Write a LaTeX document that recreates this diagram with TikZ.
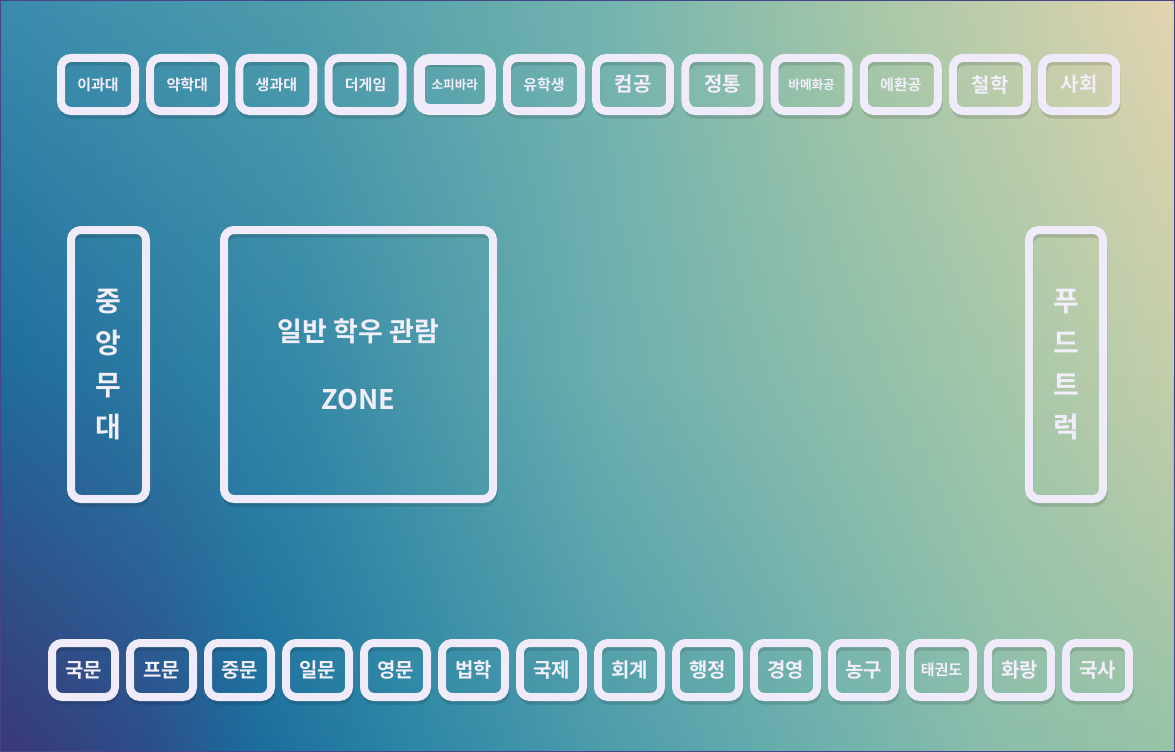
\documentclass[tikz,border=0pt]{standalone}
\usepackage{fontspec}
\newfontfamily\coreano{Noto Sans CJK KR}[BoldFont={Noto Sans CJK KR Bold}]
\usepackage{xcolor}
\usetikzlibrary{fadings}
\definecolor{borde}{HTML}{EFEBFB}
\definecolor{letra}{HTML}{F2EEFB}
\definecolor{marco}{HTML}{46458A}
% colores del fondo: arriba, medio, abajo
\definecolor{aA}{HTML}{3A8CAE}\definecolor{aB}{HTML}{4F9DAC}\definecolor{aC}{HTML}{73B4AE}\definecolor{aD}{HTML}{A8C8A8}\definecolor{aE}{HTML}{E3D5B0}
\definecolor{mA}{HTML}{206B9C}\definecolor{mB}{HTML}{3489A8}\definecolor{mC}{HTML}{6DB0AE}\definecolor{mD}{HTML}{A5C8A9}\definecolor{mE}{HTML}{C4CEAA}
\definecolor{bA}{HTML}{3B3878}\definecolor{bB}{HTML}{2C4E8B}\definecolor{bC}{HTML}{1B6C9C}\definecolor{bD}{HTML}{2A85A5}\definecolor{bE}{HTML}{4C9CAB}\definecolor{bF}{HTML}{6AAFAD}\definecolor{bG}{HTML}{8BBEAB}\definecolor{bH}{HTML}{98C3A7}
\pgfdeclarehorizontalshading{fondoarriba}{100bp}{color(0bp)=(aA); color(25bp)=(aA); color(37.8bp)=(aB); color(50.5bp)=(aC); color(62bp)=(aD); color(75bp)=(aE); color(100bp)=(aE)}
\pgfdeclarehorizontalshading{fondomedio}{100bp}{color(0bp)=(mA); color(25bp)=(mA); color(37.8bp)=(mB); color(51bp)=(mC); color(67.6bp)=(mD); color(75bp)=(mE); color(100bp)=(mE)}
\pgfdeclarehorizontalshading{fondoabajo}{100bp}{color(0bp)=(bA); color(25bp)=(bA); color(31.4bp)=(bB); color(35.6bp)=(bC); color(42bp)=(bD); color(50.5bp)=(bE); color(59bp)=(bF); color(67.6bp)=(bG); color(75bp)=(bH); color(100bp)=(bH)}
\tikzset{
  caja/.style={draw=borde, line width=8pt, rounded corners=10pt, text=letra, inner sep=0pt, align=center,
    preaction={draw=black, draw opacity=0.12, line width=7pt, transform canvas={xshift=1pt,yshift=-4pt}}},
}

\begin{document}
\begin{tikzpicture}[x=1pt,y=1pt]
            \useasboundingbox (0,0) rectangle (1175,-752);
            % fondo en tres capas
            \shade[shading=fondoabajo] (0,0) rectangle (1175,-752);
            \shade[shading=fondomedio] (0,0) rectangle (1175,-376.5);
            \shade[shading=fondomedio, path fading=south] (0,-376) rectangle (1175,-752);
            \shade[shading=fondoarriba, path fading=south] (0,0) rectangle (1175,-376);
            \draw[marco, line width=1.5pt] (0,0) rectangle (1175,-752); % marco
            % fila de arriba
            \foreach \txt/\tam/\grosor [count=\i from 0] in {이과대/15/8, 약학대/15/8, 생과대/15/8, 더게임/15/8, 소피바라/12.6/11, 유학생/15/8, 컴공/20/8, 정통/20/8, 바메화공/12.6/8, 에환공/15/8, 철학/20/8, 사회/20/8}
              \node[caja, line width=\grosor pt, minimum width={82pt-\grosor pt}, minimum height={61pt-\grosor pt}, font=\coreano\bfseries\fontsize{\tam}{\tam}\selectfont] (arriba\i) at ({98+89.2*\i},-84.5) {\txt};
            % fila de abajo
            \foreach \txt/\tam [count=\i from 0] in {국문/20, 프문/20, 중문/20, 일문/20, 영문/20, 법학/20, 국제/20, 회계/20, 행정/20, 경영/20, 농구/20, 태권도/15, 화랑/20, 국사/20}
              \node[caja, minimum width=63pt, minimum height=54pt, font=\coreano\bfseries\fontsize{\tam}{\tam}\selectfont] (abajo\i) at ({83.5+78*\i},-670) {\txt};
            % zonas grandes
            \node[caja, minimum width=75pt, minimum height=269pt, font=\coreano\bfseries\fontsize{28}{42}\selectfont] (escenario) at (108.5,-364.5) {중\\앙\\무\\대};
            \node[caja, minimum width=269pt, minimum height=269pt, font=\coreano\bfseries\fontsize{27}{68}\selectfont] (zona) at (358.5,-364.5) {일반 학우 관람\\ZONE};
            \node[caja, minimum width=74pt, minimum height=269pt, font=\coreano\bfseries\fontsize{28}{42}\selectfont] (comida) at (1066,-364.5) {푸\\드\\트\\럭};
\end{tikzpicture}
\end{document}
